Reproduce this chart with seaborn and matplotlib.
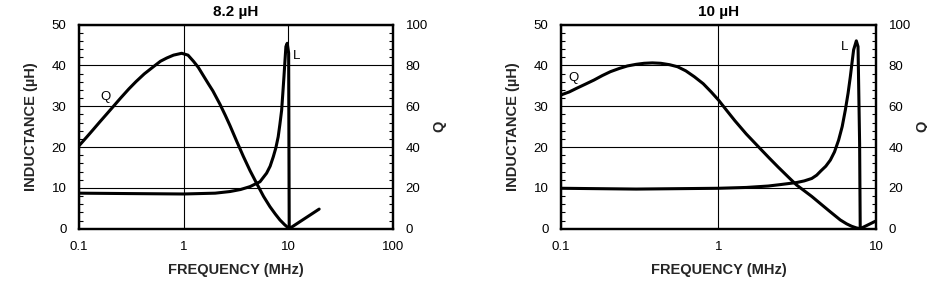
import matplotlib
matplotlib.use("Agg")
import matplotlib.pyplot as plt
from matplotlib.ticker import MultipleLocator, LogLocator, FuncFormatter, NullFormatter
import seaborn as sns
import pandas as pd

# ---------------- data ----------------
titles = ["8.2 \u00b5H", "10 \u00b5H"]
xlims = [(0.1, 100), (0.1, 10)]

# 8.2 uH : inductance (uH) vs frequency (MHz)
L8_freq = [0.1, 0.3, 1.0, 2.0, 2.77, 3.5, 4.3, 5.36, 6.2, 6.7, 7.18, 7.6, 8.0, 8.3, 8.63,
           8.85, 9.08, 9.28, 9.48, 9.76, 10.07, 10.2, 19.7]
L8_val = [8.7, 8.6, 8.5, 8.7, 9.1, 9.6, 10.3, 11.5, 13.6, 15.3, 17.6, 19.8, 22.5, 25.5, 29.0,
          33.0, 37.2, 41.0, 44.6, 45.4, 43.0, 0.0, 4.8]
# 8.2 uH : Q vs frequency
Q8_freq = [0.1, 0.12, 0.137, 0.158, 0.185, 0.213, 0.25, 0.3, 0.35, 0.42, 0.513, 0.6, 0.69,
           0.8, 0.957, 1.1, 1.24, 1.38, 1.54, 1.72, 1.9, 2.22, 2.5, 2.77, 3.2, 3.71, 4.3,
           4.98, 5.8, 6.67, 7.5, 8.31, 9.2, 10.2]
Q8_val = [40.6, 45.2, 48.6, 52.3, 56.3, 59.9, 64.0, 68.5, 72.0, 75.8, 79.3, 82.0, 83.6,
          85.0, 85.9, 85.0, 82.0, 79.0, 75.0, 71.0, 67.5, 61.0, 55.5, 50.5, 43.0, 35.5, 28.5,
          22.2, 15.8, 10.8, 7.2, 4.3, 2.0, 0.0]

# 10 uH : inductance
L10_freq = [0.1, 0.3, 1.0, 1.5, 2.07, 2.47, 3.13, 3.5, 3.91, 4.2, 4.48, 4.8, 5.13, 5.45,
            5.79, 6.1, 6.39, 6.65, 6.87, 7.05, 7.21, 7.5, 7.69, 7.87, 7.94, 10.0]
L10_val = [9.9, 9.7, 9.9, 10.1, 10.45, 10.8, 11.3, 11.7, 12.3, 13.1, 14.2, 15.3, 16.8, 18.8,
           21.7, 25.0, 29.1, 33.2, 37.2, 40.8, 43.8, 46.0, 44.6, 20.9, 0.0, 1.9]
# 10 uH : Q
Q10_freq = [0.1, 0.113, 0.126, 0.143, 0.162, 0.183, 0.206, 0.235, 0.264, 0.3, 0.337, 0.38,
            0.43, 0.49, 0.55, 0.62, 0.703, 0.8, 0.898, 1.0, 1.13, 1.27, 1.5, 1.83, 2.1, 2.39,
            2.75, 3.13, 3.5, 3.91, 4.48, 5.1, 5.93, 6.5, 7.0, 7.5, 7.94]
Q10_val = [65.5, 67.0, 68.8, 70.8, 72.8, 75.0, 76.9, 78.5, 79.7, 80.5, 81.0, 81.2, 81.0,
           80.3, 79.3, 77.3, 74.4, 71.0, 67.0, 63.0, 57.8, 52.9, 46.4, 39.4, 34.6, 30.2,
           25.6, 21.4, 18.6, 15.8, 12.0, 8.4, 4.3, 2.4, 1.2, 0.4, 0.0]

# curve label positions (freq, inductance-axis units)
q_label_pos = [(0.18, 32.2), (0.12, 36.8)]
l_label_pos = [(12.0, 42.3), (6.35, 44.6)]

# ---------------- style ----------------
sns.set_style("white")
plt.rcParams["font.family"] = ["Liberation Sans", "DejaVu Sans"]
plt.rcParams["axes.edgecolor"] = "black"
plt.rcParams["text.color"] = "black"
plt.rcParams["xtick.color"] = "black"
plt.rcParams["ytick.color"] = "black"

fig = plt.figure(figsize=(9.28, 2.81), dpi=100)
W, H = 928, 281
boxes = [(79, 393), (561, 876)]
top_px, bot_px = 24.5, 228.7

datasets = [
    (L8_freq, L8_val, Q8_freq, Q8_val),
    (L10_freq, L10_val, Q10_freq, Q10_val),
]

fmt = FuncFormatter(lambda v, p: f"{v:g}")

for i, (lf, lv, qf, qv) in enumerate(datasets):
    x0, x1 = boxes[i]
    ax = fig.add_axes([x0 / W, (H - bot_px) / H, (x1 - x0) / W, (bot_px - top_px) / H])
    ax2 = ax.twinx()

    dfL = pd.DataFrame({"freq": lf, "L": lv})
    dfQ = pd.DataFrame({"freq": qf, "Q": qv})
    sns.lineplot(data=dfL, x="freq", y="L", ax=ax, color="black", lw=2.2,
                 estimator=None, sort=False)
    sns.lineplot(data=dfQ, x="freq", y="Q", ax=ax2, color="black", lw=2.2,
                 estimator=None, sort=False)

    ax.set_xscale("log")
    ax.set_xlim(*xlims[i])
    ax.set_ylim(0, 50)
    ax2.set_ylim(0, 100)

    ax.xaxis.set_major_locator(LogLocator(base=10, numticks=10))
    ax.xaxis.set_minor_locator(LogLocator(base=10, subs=range(2, 10), numticks=20))
    ax.xaxis.set_major_formatter(fmt)
    ax.xaxis.set_minor_formatter(NullFormatter())
    ax.yaxis.set_major_locator(MultipleLocator(10))
    ax.yaxis.set_minor_locator(MultipleLocator(2))
    ax2.yaxis.set_major_locator(MultipleLocator(20))
    ax2.yaxis.set_minor_locator(MultipleLocator(4))

    ax.grid(True, which="major", color="black", lw=0.8)
    ax.set_axisbelow(True)

    ax.tick_params(axis="both", which="major", length=0, labelsize=9.5, pad=9)
    ax.tick_params(axis="both", which="minor", direction="in", length=3, width=0.8,
                   top=False, right=False)
    ax2.tick_params(axis="y", which="major", length=0, labelsize=9.5, pad=9)
    ax2.tick_params(axis="y", which="minor", direction="in", length=3, width=0.8)

    for a in (ax, ax2):
        for s in a.spines.values():
            s.set_linewidth(1.6)
            s.set_color("black")

    ax.set_title(titles[i], fontsize=11, fontweight="bold", pad=6)
    ax.set_xlabel("FREQUENCY (MHz)", fontsize=10.5, fontweight="bold", labelpad=7)
    ax.set_ylabel("INDUCTANCE (\u00b5H)", fontsize=10.5, fontweight="bold", labelpad=10)
    ax2.set_ylabel("Q", fontsize=10.5, fontweight="bold", labelpad=3)

    ax.text(*q_label_pos[i], "Q", ha="center", va="center", fontsize=9.5)
    ax.text(*l_label_pos[i], "L", ha="center", va="center", fontsize=9.5)

fig.savefig("out.png", dpi=100)
